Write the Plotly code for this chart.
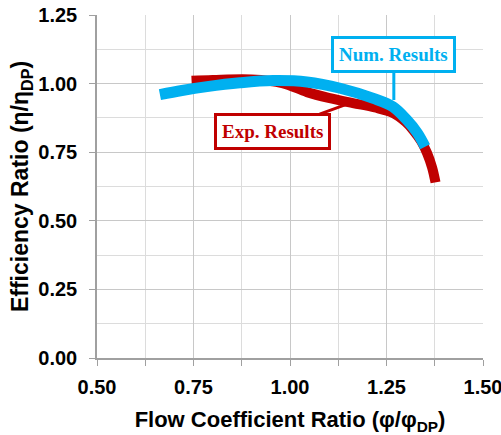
import plotly.graph_objects as go

exp_x = [0.745, 0.80, 0.90, 0.98, 1.044, 1.10, 1.163, 1.22, 1.267, 1.30, 1.319, 1.34, 1.355, 1.368, 1.377]
exp_y = [1.010, 1.013, 1.015, 1.002, 0.969, 0.948, 0.929, 0.913, 0.893, 0.860, 0.831, 0.790, 0.747, 0.695, 0.640]

num_x = [0.663, 0.72, 0.785, 0.87, 0.956, 1.044, 1.13, 1.216, 1.267, 1.303, 1.33, 1.35]
num_y = [0.960, 0.975, 0.989, 1.003, 1.011, 1.006, 0.983, 0.946, 0.915, 0.867, 0.820, 0.770]

RED = "#C00000"
BLUE = "#00B0F0"

fig = go.Figure()
fig.add_trace(go.Scatter(x=exp_x, y=exp_y, mode="lines", line=dict(color=RED, width=10, shape="spline"), showlegend=False))
fig.add_trace(go.Scatter(x=num_x, y=num_y, mode="lines", line=dict(color=BLUE, width=11, shape="spline"), showlegend=False))

fig.add_annotation(x=1.269, y=0.94, ax=0, ay=-46, text="<b>Num. Results</b>",
                   font=dict(family="Liberation Serif", size=19, color=BLUE),
                   bordercolor=BLUE, borderwidth=3, borderpad=5, bgcolor="white",
                   showarrow=True, arrowhead=0, arrowwidth=3, arrowcolor=BLUE)
fig.add_annotation(x=1.155, y=0.929, ax=-77, ay=28, text="<b>Exp. Results</b>",
                   font=dict(family="Liberation Serif", size=19, color=RED),
                   bordercolor=RED, borderwidth=3, borderpad=5, bgcolor="white",
                   showarrow=True, arrowhead=0, arrowwidth=3, arrowcolor=RED)

axis_font = dict(family="Liberation Sans", size=20, color="black")
fig.update_xaxes(range=[0.5, 1.5], tickvals=[0.5, 0.75, 1.0, 1.25, 1.5], ticktext=["<b>0.50</b>", "<b>0.75</b>", "<b>1.00</b>", "<b>1.25</b>", "<b>1.50</b>"],
                 tickfont=axis_font, showgrid=True, gridcolor="#C8C8C8", gridwidth=1, automargin=False,
                 minor=dict(dtick=0.125, showgrid=True, gridcolor="#DCDCDC", ticks="outside", ticklen=6, tickcolor="#A0A0A0"),
                 ticks="outside", ticklen=6, tickcolor="#A0A0A0", ticklabelstandoff=4, ticklabeloverflow="allow",
                 showline=True, linecolor="#A0A0A0", linewidth=1.5, zeroline=False,
                 title=dict(text="<b>Flow Coefficient Ratio (φ/φ<sub>DP</sub>)</b>", font=dict(family="Liberation Sans", size=22, color="black"), standoff=23))
fig.update_yaxes(range=[0, 1.25], tickvals=[0, 0.25, 0.5, 0.75, 1.0, 1.25], ticktext=["<b>0.00</b>", "<b>0.25</b>", "<b>0.50</b>", "<b>0.75</b>", "<b>1.00</b>", "<b>1.25</b>"],
                 tickfont=axis_font, showgrid=True, gridcolor="#C8C8C8", gridwidth=1, automargin=False,
                 minor=dict(dtick=0.125, showgrid=True, gridcolor="#DCDCDC"),
                 ticks="outside", ticklen=6, tickcolor="#A0A0A0", ticklabelstandoff=8, ticklabeloverflow="allow",
                 showline=True, linecolor="#A0A0A0", linewidth=1.5, zeroline=False,
                 title=dict(text="<b>Efficiency Ratio (η/η<sub>DP</sub>)</b>", font=dict(family="Liberation Sans", size=23, color="black"), standoff=3))
fig.update_layout(width=501, height=435, margin=dict(l=97, r=18, t=15, b=77, autoexpand=False),
                  plot_bgcolor="white", paper_bgcolor="white")
fig.write_html("out.html", config={"displayModeBar": False}, post_script="document.body.style.margin='0';")
